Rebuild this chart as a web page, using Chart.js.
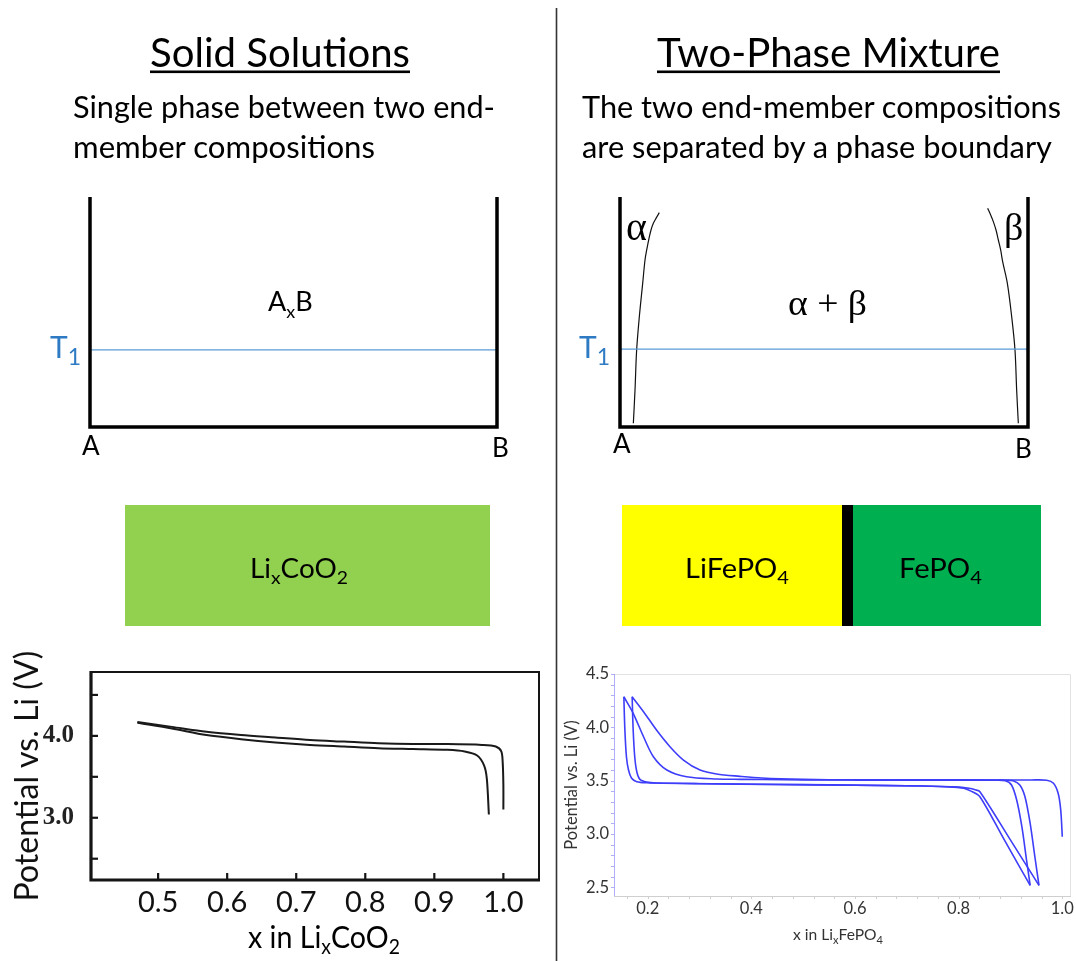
<!DOCTYPE html>
<html>
<head>
<meta charset="utf-8">
<script src="https://cdn.jsdelivr.net/npm/chart.js@4.4.0/dist/chart.umd.min.js"></script>
<style>
html,body{margin:0;padding:0;background:#fff;}
#page{position:relative;width:1076px;height:961px;overflow:hidden;background:#fff;}
canvas{position:absolute;}
.box{position:absolute;}
svg{position:absolute;left:0;top:0;pointer-events:none;}
</style>
</head>
<body>
<div id="page">
  <div class="box" style="left:125px;top:505px;width:365px;height:121px;background:#92D050"></div>
  <div class="box" style="left:622px;top:505px;width:220px;height:121px;background:#FFFF00"></div>
  <div class="box" style="left:842px;top:505px;width:11px;height:121px;background:#000"></div>
  <div class="box" style="left:853px;top:505px;width:188px;height:121px;background:#00B050"></div>

  <canvas id="phaseL" width="480" height="280" style="left:40px;top:190px"></canvas>
  <canvas id="phaseR" width="480" height="280" style="left:580px;top:190px"></canvas>
  <canvas id="lco" width="556" height="321" style="left:0px;top:640px"></canvas>
  <canvas id="lfp" width="540" height="311" style="left:556px;top:650px"></canvas>

  <svg width="1076" height="961" viewBox="0 0 1076 961">
    <line x1="556.5" y1="8" x2="556.5" y2="961" stroke="#333" stroke-width="1.6"/>
    <g font-family="Lato, 'Open Sans', sans-serif" fill="#000">
      <text x="150" y="67" font-size="40" textLength="260" lengthAdjust="spacingAndGlyphs">Solid Solutions</text>
      <rect x="150" y="70.5" width="260" height="2.6"/>
      <text x="657" y="67" font-size="40" textLength="343" lengthAdjust="spacingAndGlyphs">Two-Phase Mixture</text>
      <rect x="657" y="70.5" width="343" height="2.6"/>

      <text x="73" y="118" font-size="31" textLength="422" lengthAdjust="spacingAndGlyphs">Single phase between two end-</text>
      <text x="73" y="158" font-size="31" textLength="302" lengthAdjust="spacingAndGlyphs">member compositions</text>
      <text x="582" y="118" font-size="31" textLength="479" lengthAdjust="spacingAndGlyphs">The two end-member compositions</text>
      <text x="582" y="158" font-size="31" textLength="470" lengthAdjust="spacingAndGlyphs">are separated by a phase boundary</text>

      <text x="50" y="358" font-size="30" fill="#2E7BC4">T<tspan font-size="23" dy="7">1</tspan></text>
      <text x="579" y="358" font-size="30" fill="#2E7BC4">T<tspan font-size="23" dy="7">1</tspan></text>

      <text x="268" y="311" font-size="27">A<tspan font-size="18" dy="7">x</tspan><tspan dy="-7">B</tspan></text>

      <text x="82" y="455" font-size="26">A</text>
      <text x="492" y="457" font-size="26">B</text>
      <text x="613" y="453" font-size="26">A</text>
      <text x="1015" y="458" font-size="26">B</text>

      <text x="250" y="578" font-size="26" textLength="98" lengthAdjust="spacingAndGlyphs">Li<tspan font-size="18" dy="6">x</tspan><tspan dy="-6">CoO</tspan><tspan font-size="18" dy="6">2</tspan></text>
      <text x="685" y="578" font-size="26" textLength="104" lengthAdjust="spacingAndGlyphs">LiFePO<tspan font-size="18" dy="6">4</tspan></text>
      <text x="899" y="578" font-size="26" textLength="83" lengthAdjust="spacingAndGlyphs">FePO<tspan font-size="18" dy="6">4</tspan></text>

      <text x="248" y="948" font-size="31" textLength="152" lengthAdjust="spacingAndGlyphs">x in Li<tspan font-size="21" dy="6">x</tspan><tspan dy="-6">CoO</tspan><tspan font-size="21" dy="6">2</tspan></text>
      <text x="793" y="940" font-size="15.5" fill="#333" textLength="90" lengthAdjust="spacingAndGlyphs">x in Li<tspan font-size="11" dy="3.5">x</tspan><tspan dy="-3.5">FePO</tspan><tspan font-size="11" dy="3.5">4</tspan></text>
    </g>
    <g font-family="'Liberation Serif', 'DejaVu Serif', serif" fill="#000">
      <text x="626" y="240" font-size="40">α</text>
      <text x="1004" y="240" font-size="38">β</text>
      <text x="788" y="315" font-size="36" textLength="79" lengthAdjust="spacingAndGlyphs">α + β</text>
    </g>
  </svg>
</div>

<script>
// ---------- Phase diagrams (schematic, normalised composition / temperature) ----------
const phaseFrameX = [0, 0, 1, 1];
const phaseFrameY = [1, 0, 0, 1];
const t1LevelLeft = 0.335;
const t1LevelRight = 0.339;
const alphaBoundaryX = [0.0327, 0.0368, 0.0408, 0.0474, 0.0556, 0.0613, 0.0662, 0.0711, 0.0760, 0.0817, 0.0882, 0.0964];
const alphaBoundaryY = [0.0159, 0.1609, 0.3348, 0.4797, 0.6246, 0.7261, 0.7768, 0.8203, 0.8565, 0.8855, 0.9072, 0.9319];
const betaBoundaryX  = [0.9763, 0.9722, 0.9681, 0.9600, 0.9494, 0.9379, 0.9330, 0.9273, 0.9216, 0.9150, 0.9085, 0.9011];
const betaBoundaryY  = [0.0159, 0.1609, 0.3348, 0.4797, 0.6246, 0.7188, 0.7696, 0.8130, 0.8565, 0.8928, 0.9217, 0.9507];

// ---------- LixCoO2 voltage curves ----------
const lcoXTicks = [0.5, 0.6, 0.7, 0.8, 0.9, 1.0];
const lcoXLabels = ['0.5', '0.6', '0.7', '0.8', '0.9', '1.0'];
const lcoYTicks = [2.5, 3.0, 3.5, 4.0, 4.5];
const lcoYLabels = ['', '3.0', '', '4.0', ''];
const lcoUpperX = [0.470, 0.520, 0.570, 0.620, 0.670, 0.720, 0.769, 0.819, 0.869, 0.919, 0.969, 0.989, 0.997, 0.999, 1.000, 1.000];
const lcoUpperY = [4.17, 4.11, 4.05, 4.01, 3.98, 3.95, 3.93, 3.91, 3.90, 3.90, 3.89, 3.87, 3.81, 3.68, 3.40, 3.10];
const lcoLowerX = [0.470, 0.520, 0.570, 0.620, 0.670, 0.720, 0.769, 0.819, 0.869, 0.919, 0.944, 0.962, 0.972, 0.976, 0.979];
const lcoLowerY = [4.16, 4.09, 4.01, 3.96, 3.92, 3.89, 3.87, 3.85, 3.84, 3.83, 3.81, 3.76, 3.64, 3.48, 3.04];

// ---------- LixFePO4 voltage curves ----------
const lfpXTicks = [0.2, 0.4, 0.6, 0.8, 1.0];
const lfpXLabels = ['0.2', '0.4', '0.6', '0.8', '1.0'];
const lfpYTicks = [2.5, 3.0, 3.5, 4.0, 4.5];
const lfpYLabels = ['2.5', '3.0', '3.5', '4.0', '4.5'];
const lfpCharge1X = [1.000, 0.997, 0.992, 0.983, 0.970, 0.940, 0.800, 0.650, 0.500, 0.420, 0.378, 0.333, 0.275, 0.237, 0.211, 0.192, 0.172, 0.154];
const lfpCharge1Y = [2.975, 3.225, 3.382, 3.476, 3.505, 3.507, 3.506, 3.507, 3.508, 3.512, 3.513, 3.516, 3.537, 3.600, 3.725, 3.912, 4.132, 4.287];
const lfpDischarge1X = [0.154, 0.156, 0.159, 0.163, 0.169, 0.179, 0.198, 0.250, 0.400, 0.600, 0.730, 0.790, 0.810, 0.825, 0.841, 0.889, 0.938];
const lfpDischarge1Y = [4.287, 3.975, 3.725, 3.600, 3.523, 3.491, 3.481, 3.476, 3.467, 3.459, 3.450, 3.440, 3.430, 3.400, 3.350, 2.938, 2.520];
const lfpCharge2X = [0.938, 0.931, 0.922, 0.912, 0.902, 0.890, 0.870, 0.750, 0.600, 0.500, 0.420, 0.378, 0.333, 0.301, 0.269, 0.243, 0.217, 0.192, 0.170];
const lfpCharge2Y = [2.520, 2.757, 3.069, 3.319, 3.460, 3.500, 3.505, 3.506, 3.508, 3.513, 3.525, 3.541, 3.563, 3.600, 3.694, 3.819, 3.975, 4.147, 4.287];
const lfpDischarge2X = [0.170, 0.172, 0.175, 0.179, 0.185, 0.198, 0.217, 0.300, 0.450, 0.600, 0.730, 0.800, 0.820, 0.832, 0.841, 0.898, 0.955];
const lfpDischarge2Y = [4.287, 3.975, 3.725, 3.584, 3.513, 3.488, 3.479, 3.472, 3.465, 3.458, 3.450, 3.440, 3.430, 3.415, 3.397, 2.960, 2.520];
const lfpCharge3X = [0.955, 0.947, 0.938, 0.928, 0.918, 0.905, 0.890, 0.750, 0.600];
const lfpCharge3Y = [2.520, 2.790, 3.100, 3.350, 3.460, 3.500, 3.505, 3.506, 3.508];

const pts = (xs, ys) => xs.map((x, i) => ({x: x, y: ys[i]}));

Chart.defaults.font.family = "Lato, 'Open Sans', sans-serif";

function phaseChart(id, pad, extra, t1) {
  const sets = [
    {data: pts(phaseFrameX, phaseFrameY), borderColor: '#000', borderWidth: 3.5, borderJoinStyle: 'miter', tension: 0},
    {data: pts([0, 1], [t1, t1]), borderColor: '#5B9BD5', borderWidth: 1.3, tension: 0}
  ].concat(extra);
  sets.forEach(s => { s.showLine = true; s.clip = false; s.pointRadius = 0; });
  return new Chart(document.getElementById(id), {
    type: 'scatter',
    data: {datasets: sets},
    options: {
      responsive: false, animation: false,
      layout: {padding: pad},
      plugins: {legend: {display: false}, tooltip: {enabled: false}},
      scales: {
        x: {type: 'linear', min: 0, max: 1, display: false},
        y: {type: 'linear', min: 0, max: 1, display: false}
      }
    }
  });
}

phaseChart('phaseL', {left: 50, right: 23, top: 7, bottom: 43}, [], t1LevelLeft);
phaseChart('phaseR', {left: 40, right: 32, top: 7, bottom: 43}, [
  {data: pts(alphaBoundaryX, alphaBoundaryY), borderColor: '#111', borderWidth: 1.2, tension: 0.35},
  {data: pts(betaBoundaryX, betaBoundaryY), borderColor: '#111', borderWidth: 1.2, tension: 0.35}
], t1LevelRight);

// ---------- LixCoO2 chart ----------
const lcoFrame = {
  id: 'lcoFrame',
  afterDatasetsDraw(chart) {
    const {ctx, chartArea: {left, right, top, bottom}, scales: {x, y}} = chart;
    ctx.save();
    ctx.strokeStyle = '#151515';
    ctx.lineWidth = 2;
    ctx.strokeRect(left, top, right - left, bottom - top);
    ctx.lineWidth = 3.2;
    ctx.beginPath(); ctx.moveTo(left, top - 1); ctx.lineTo(left, bottom); ctx.lineTo(right + 1, bottom); ctx.stroke();
    ctx.lineWidth = 2.2;
    lcoYTicks.forEach(v => { const py = y.getPixelForValue(v); ctx.beginPath(); ctx.moveTo(left, py); ctx.lineTo(left + 7, py); ctx.stroke(); });
    lcoXTicks.forEach(v => { const px = x.getPixelForValue(v); ctx.beginPath(); ctx.moveTo(px, bottom); ctx.lineTo(px, bottom - 7); ctx.stroke(); });
    ctx.restore();
  }
};

new Chart(document.getElementById('lco'), {
  type: 'scatter',
  data: {datasets: [
    {label: 'charge', data: pts(lcoUpperX, lcoUpperY), showLine: true, borderColor: '#1a1a1a', borderWidth: 2, pointRadius: 0, tension: 0.3},
    {label: 'discharge', data: pts(lcoLowerX, lcoLowerY), showLine: true, borderColor: '#1a1a1a', borderWidth: 2, pointRadius: 0, tension: 0.3}
  ]},
  options: {
    responsive: false, animation: false,
    layout: {padding: {left: 0, right: 17, top: 28, bottom: 0}},
    plugins: {legend: {display: false}, tooltip: {enabled: false}},
    scales: {
      x: {
        type: 'linear', min: 0.4028, max: 1.0516,
        afterFit(s) { s.height = 81; },
        afterBuildTicks(s) { s.ticks = lcoXTicks.map(v => ({value: v})); },
        ticks: {callback: (v, i) => lcoXLabels[i], font: {size: 29}, color: '#111', padding: 5, maxRotation: 0, autoSkip: false},
        grid: {display: false, drawTicks: false},
        border: {display: false}
      },
      y: {
        type: 'linear', min: 2.24, max: 4.78,
        afterFit(s) { s.width = 91; },
        afterBuildTicks(s) { s.ticks = lcoYTicks.map(v => ({value: v})); },
        ticks: {callback: (v, i) => lcoYLabels[i], font: {family: "'Liberation Serif', serif", weight: 'bold', size: 25}, color: '#222', padding: 17, autoSkip: false},
        grid: {display: false, drawTicks: false},
        border: {display: false},
        title: {display: true, text: 'Potential vs. Li (V)', font: {size: 32}, color: '#111', padding: {top: 8, bottom: 0}}
      }
    }
  },
  plugins: [lcoFrame]
});

// ---------- LixFePO4 chart ----------
const lfpFrame = {
  id: 'lfpFrame',
  beforeDatasetsDraw(chart) {
    const {ctx, chartArea: {left, right, top, bottom}, scales: {x, y}} = chart;
    ctx.save();
    ctx.lineWidth = 1;
    ctx.strokeStyle = '#e2e2e2';
    ctx.beginPath(); ctx.moveTo(left, top + 0.5); ctx.lineTo(right - 0.5, top + 0.5); ctx.lineTo(right - 0.5, bottom); ctx.stroke();
    ctx.strokeStyle = '#cfcfcf';
    ctx.beginPath(); ctx.moveTo(left, bottom + 0.5); ctx.lineTo(right, bottom + 0.5); ctx.stroke();
    for (let v = 0.16; v <= 1.0001; v += 0.04) {
      const px = Math.round(x.getPixelForValue(v)) + 0.5;
      ctx.beginPath(); ctx.moveTo(px, bottom); ctx.lineTo(px, bottom + 3); ctx.stroke();
    }
    ctx.strokeStyle = 'rgba(110,110,240,0.55)';
    ctx.beginPath(); ctx.moveTo(left + 0.5, top); ctx.lineTo(left + 0.5, bottom); ctx.stroke();
    for (let v = 2.5; v <= 4.5001; v += 0.1) {
      const py = Math.round(y.getPixelForValue(v)) + 0.5;
      ctx.beginPath(); ctx.moveTo(left - 3, py); ctx.lineTo(left, py); ctx.stroke();
    }
    ctx.restore();
  }
};

const lfpLine = (label, xs, ys) => ({label, data: pts(xs, ys), showLine: true, borderColor: 'rgb(62,62,250)', borderWidth: 1.6, pointRadius: 0, tension: 0.3});

new Chart(document.getElementById('lfp'), {
  type: 'scatter',
  data: {datasets: [
    lfpLine('charge 1', lfpCharge1X, lfpCharge1Y),
    lfpLine('discharge 1', lfpDischarge1X, lfpDischarge1Y),
    lfpLine('charge 2', lfpCharge2X, lfpCharge2Y),
    lfpLine('discharge 2', lfpDischarge2X, lfpDischarge2Y),
    lfpLine('charge 3', lfpCharge3X, lfpCharge3Y)
  ]},
  options: {
    responsive: false, animation: false,
    layout: {padding: {left: 0, right: 25, top: 24, bottom: 0}},
    plugins: {legend: {display: false}, tooltip: {enabled: false}},
    scales: {
      x: {
        type: 'linear', min: 0.135, max: 1.0168,
        afterFit(s) { s.height = 65; },
        afterBuildTicks(s) { s.ticks = lfpXTicks.map(v => ({value: v})); },
        ticks: {callback: (v, i) => lfpXLabels[i], font: {size: 16.5}, color: '#333', padding: 3, maxRotation: 0, autoSkip: false},
        grid: {display: false, drawTicks: false},
        border: {display: false}
      },
      y: {
        type: 'linear', min: 2.42, max: 4.5,
        afterFit(s) { s.width = 58; },
        afterBuildTicks(s) { s.ticks = lfpYTicks.map(v => ({value: v})); },
        ticks: {callback: (v, i) => lfpYLabels[i], font: {size: 16.5}, color: '#333', padding: 5, autoSkip: false},
        grid: {display: false, drawTicks: false},
        border: {display: false},
        title: {display: true, text: 'Potential vs. Li (V)', font: {size: 16.5}, color: '#333', padding: {top: 6, bottom: 0}}
      }
    }
  },
  plugins: [lfpFrame]
});
</script>
</body>
</html>
